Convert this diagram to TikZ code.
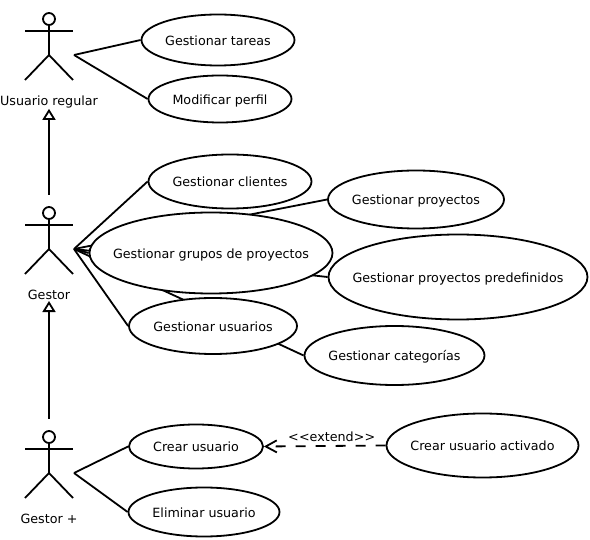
\documentclass[tikz,border=0pt]{standalone}
\usepackage{fontspec}
\setmainfont{DejaVu Sans}
\usetikzlibrary{positioning}
\usetikzlibrary{shapes.geometric}
\usetikzlibrary{arrows.meta}
\usetikzlibrary{backgrounds}
\newcommand{\uctext}[1]{\raisebox{-5.5pt}[0pt][0pt]{\makebox[0pt]{#1}}}
\tikzset{
  usecase/.style={ellipse, draw=black, fill=white, line width=1.8pt, inner sep=0pt, font=\fontsize{12.7}{14}\selectfont},
  actorhead/.style={circle, minimum size=12pt, inner sep=0pt, draw=black, line width=1.8pt},
  actorlabel/.style={inner sep=0pt, font=\fontsize{12.7}{14}\selectfont},
  link/.style={line width=1.8pt, color=black},
}
\begin{document}
\begin{tikzpicture}[x=1pt, y=1pt]
\useasboundingbox (0pt, 0pt) rectangle (590pt, -540pt);
% actors
\foreach \name/\hy/\txt/\ly in {regular/-19/Usuario regular/-101.5, gestor/-213/Gestor/-295, gestorplus/-437/Gestor +/-519} {
  \node (\name) [actorhead] at (49, \hy) {};
  \node (\name-label) [actorlabel] at (49, \ly) {\txt};
  \coordinate (\name-hip) at (49, \hy-36);
  \coordinate (\name-hand) at (74, \hy-36);
  \draw [link] (25, \hy-12) -- (73, \hy-12);
  \draw [link] (\name) -- (\name-hip);
  \draw [link] (25, \hy-61) -- (\name-hip) -- (73, \hy-61);
}
% use cases
\node (tareas) [usecase, minimum width=153pt, minimum height=51pt] at (218, -40) {\uctext{Gestionar tareas}};
\node (perfil) [usecase, minimum width=143pt, minimum height=47pt] at (220, -99) {\uctext{Modificar perfil}};
\node (clientes) [usecase, minimum width=163pt, minimum height=54pt] at (230, -181.5) {\uctext{Gestionar clientes}};
\node (proyectos) [usecase, minimum width=176pt, minimum height=58pt] at (416, -199.5) {\uctext{Gestionar proyectos}};
\node (grupos) [usecase, minimum width=243pt, minimum height=81pt] at (211, -253) {\uctext{Gestionar grupos de proyectos}};
\node (predefinidos) [usecase, minimum width=259pt, minimum height=85pt] at (458, -277) {\uctext{Gestionar proyectos predefinidos}};
\node (usuarios) [usecase, minimum width=168pt, minimum height=56pt] at (213, -326) {\uctext{Gestionar usuarios}};
\node (categorias) [usecase, minimum width=180pt, minimum height=59pt] at (394.5, -355.5) {\uctext{Gestionar categorías}};
\node (crear) [usecase, minimum width=134pt, minimum height=44pt] at (196, -446.5) {\uctext{Crear usuario}};
\node (eliminar) [usecase, minimum width=151pt, minimum height=49pt] at (204, -512) {\uctext{Eliminar usuario}};
\node (activado) [usecase, minimum width=192pt, minimum height=64pt] at (482.5, -445.5) {\uctext{Crear usuario activado}};
% connectors, behind the use cases
\begin{scope}[on background layer]
\draw [link] (regular-hand) -- (tareas.west);
\draw [link] (regular-hand) -- (perfil.west);
\foreach \target in {clientes, proyectos, grupos, predefinidos, usuarios, categorias}
  \draw [link] (gestor-hand) -- (\target.west);
\draw [link] (gestorplus-hand) -- (crear.west);
\draw [link] (gestorplus-hand) -- (eliminar.west);
\end{scope}
\coordinate (gestor-top) at (49, -195);
\coordinate (gestorplus-top) at (49, -419);
\draw [link, -{Triangle[open, length=11pt, width=13pt, line width=1.8pt]}] (gestor-top) -- ([yshift=-1pt]regular-label.south);
\draw [link, -{Triangle[open, length=11pt, width=13pt, line width=1.8pt]}] (gestorplus-top) -- ([yshift=-1pt]gestor-label.south);
\draw [link, dash pattern=on 10pt off 10pt, -{Straight Barb[length=11pt, width=12pt, line width=1.8pt]}] (activado.west) -- node (extend) [above=3pt, xshift=7pt, inner sep=0pt, font=\fontsize{12.7}{14}\selectfont] {<\kern0.3pt<extend>\kern0.3pt>} (crear.east);
\end{tikzpicture}
\end{document}
